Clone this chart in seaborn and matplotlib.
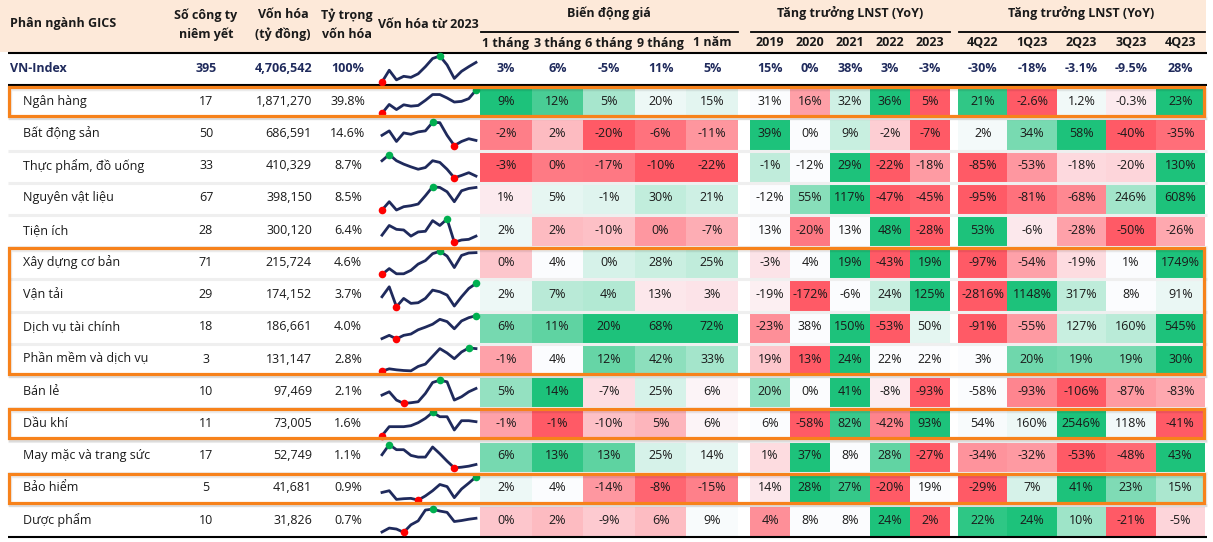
import numpy as np
import seaborn as sns
import matplotlib.pyplot as plt
from matplotlib.colors import LinearSegmentedColormap
from matplotlib.patches import Rectangle

sectors = ["Ngân hàng", "Bất động sản", "Thực phẩm, đồ uống", "Nguyên vật liệu", "Tiện ích",
           "Xây dựng cơ bản", "Vận tải", "Dịch vụ tài chính", "Phần mềm và dịch vụ", "Bán lẻ",
           "Dầu khí", "May mặc và trang sức", "Bảo hiểm", "Dược phẩm"]
n_companies = [17, 50, 33, 67, 28, 71, 29, 18, 3, 10, 11, 17, 5, 10]
market_cap = [1871270, 686591, 410329, 398150, 300120, 215724, 174152, 186661, 131147,
              97469, 73005, 52749, 41681, 31826]
cap_weight = [39.8, 14.6, 8.7, 8.5, 6.4, 4.6, 3.7, 4.0, 2.8, 2.1, 1.6, 1.1, 0.9, 0.7]

price_cols = ["1 tháng", "3 tháng", "6 tháng", "9 tháng", "1 năm"]
price_chg = [[9, 12, 5, 20, 15], [-2, 2, -20, -6, -11], [-3, 0, -17, -10, -22],
             [1, 5, -1, 30, 21], [2, 2, -10, 0, -7], [0, 4, 0, 28, 25],
             [2, 7, 4, 13, 3], [6, 11, 20, 68, 72], [-1, 4, 12, 42, 33],
             [5, 14, -7, 25, 6], [-1, -1, -10, 5, 6], [6, 13, 13, 25, 14],
             [2, 4, -14, -8, -15], [0, 2, -9, 6, 9]]

year_cols = ["2019", "2020", "2021", "2022", "2023"]
profit_year = [[31, 16, 32, 36, 5], [39, 0, 9, -2, -7], [-1, -12, 29, -22, -18],
               [-12, 55, 117, -47, -45], [13, -20, 13, 48, -28], [-3, 4, 19, -43, 19],
               [-19, -172, -6, 24, 125], [-23, 38, 150, -53, 50], [19, 13, 24, 22, 22],
               [20, 0, 41, -8, -93], [6, -58, 82, -42, 93], [1, 37, 8, 28, -27],
               [14, 28, 27, -20, 19], [4, 8, 8, 24, 2]]

quarter_cols = ["4Q22", "1Q23", "2Q23", "3Q23", "4Q23"]
profit_quarter = [[21, -2.6, 1.2, -0.3, 23], [2, 34, 58, -40, -35], [-85, -53, -18, -20, 130],
                  [-95, -81, -68, 246, 608], [53, -6, -28, -50, -26], [-97, -54, -19, 1, 1749],
                  [-2816, 1148, 317, 8, 91], [-91, -55, 127, 160, 545], [3, 20, 19, 19, 30],
                  [-58, -93, -106, -87, -83], [54, 160, 2546, 118, -41], [-34, -32, -53, -48, 43],
                  [-29, 7, 41, 23, 15], [22, 24, 10, -21, -5]]

vn_companies = 395
vn_cap = 4706542
vn_price = [3, 6, -5, 11, 5]
vn_year = [15, 0, 38, 3, -3]
vn_quarter = [-30, -18, -3.1, -9.5, 28]

# market cap trend since 2023 (relative level, 14 points), VN-Index first
vn_trend = [12, 45, 18, 28, 25, 35, 55, 78, 85, 60, 22, 42, 55, 67]
sector_trend = [
    [9, 35, 20, 34, 30, 32, 47, 64, 64, 54, 42, 44, 52, 77],
    [40, 53, 22, 47, 43, 50, 53, 78, 77, 40, 10, 22, 30, 25],
    [60, 78, 60, 50, 42, 35, 40, 60, 55, 35, 10, 17, 25, 15],
    [12, 37, 12, 22, 25, 30, 55, 82, 80, 67, 37, 70, 77, 80],
    [30, 60, 48, 46, 27, 40, 42, 75, 60, 80, 8, 15, 17, 27],
    [15, 32, 17, 17, 27, 45, 55, 75, 82, 68, 35, 70, 77, 78],
    [40, 70, 10, 35, 20, 22, 35, 60, 55, 45, 12, 40, 65, 80],
    [9, 19, 8, 19, 23, 36, 44, 53, 68, 61, 39, 63, 73, 79],
    [6, 13, 10, 8, 7, 20, 27, 50, 73, 60, 43, 63, 75, 73],
    [35, 45, 20, 10, 12, 15, 40, 73, 80, 75, 20, 30, 45, 55],
    [8, 35, 35, 35, 38, 47, 60, 78, 65, 65, 25, 53, 53, 50],
    [47, 77, 62, 62, 45, 40, 40, 70, 50, 28, 8, 10, 13, 18],
    [30, 35, 10, 12, 13, 8, 20, 35, 53, 47, 15, 40, 57, 75],
    [8, 20, 17, 7, 30, 42, 75, 78, 72, 68, 40, 43, 47, 50],
]
highlight_groups = [(0, 0), (5, 8), (10, 10), (12, 12)]

# ---- layout (pixels) ----
W, H = 1213, 542
ROW0, RH = 85.1, 32.23
NAVY = "#1F2A5C"
TXT = "#1a1a1a"

plt.rcParams["font.family"] = ["Open Sans", "DejaVu Sans"]
fig = plt.figure(figsize=(W / 100, H / 100), dpi=100)


def rect(x0, y0, x1, y1):
    return [x0 / W, 1 - y1 / H, (x1 - x0) / W, (y1 - y0) / H]


def pct(v):
    return f"{v:.1f}%" if v != int(v) else f"{v:.0f}%"


def mid_scale(v, mid):
    # 3-colour scale: min -> -1, mid -> 0, max -> +1
    v = np.asarray(v, float)
    lo, hi = v.min(), v.max()
    mid = min(max(mid, lo), hi)
    out = np.zeros_like(v)
    up, dn = v > mid, v < mid
    out[up] = (v[up] - mid) / (hi - mid)
    out[dn] = -(mid - v[dn]) / (mid - lo)
    return out


price = np.array(price_chg, float)
years = np.array(profit_year, float)
quarters = np.array(profit_quarter, float)
price_score = np.column_stack([mid_scale(c, np.median(c)) for c in price.T])
year_score = np.vstack([mid_scale(r, np.median(r)) for r in years])
quarter_score = np.vstack([mid_scale(r, 0) for r in quarters])

cmap = LinearSegmentedColormap.from_list("rwg", ["#FF5A66", "#FCFCFF", "#1DC27B"])

# base axes in pixel coordinates
ax = fig.add_axes([0, 0, 1, 1])
ax.set_xlim(0, W)
ax.set_ylim(H, 0)
ax.axis("off")

# header band
ax.add_patch(Rectangle((0, 0), 1206, 52, color="#FDE9D9", lw=0))
hd = dict(fontsize=9, fontweight="bold", color=TXT, va="center")
ax.text(10, 24, "Phân ngành GICS", ha="left", **hd)
for x, l1, l2 in [(206, "Số công ty", "niêm yết"), (283, "Vốn hóa", "(tỷ đồng)"),
                  (347, "Tỷ trọng", "vốn hóa")]:
    ax.text(x, 15, l1, ha="center", **hd)
    ax.text(x, 34, l2, ha="center", **hd)
ax.text(428, 24, "Vốn hóa từ 2023", ha="center", **hd)

blocks = [(480, 738, price_cols, "Biến động giá"),
          (750, 950, year_cols, "Tăng trưởng LNST (YoY)"),
          (958, 1205, quarter_cols, "Tăng trưởng LNST (YoY)")]
for x0, x1, cols, title in blocks:
    ax.text((x0 + x1) / 2, 13, title, ha="center", **hd)
    ax.plot([x0 + 1, x1], [31.5, 31.5], color="black", lw=1.3)
    cw = (x1 - x0) / len(cols)
    for j, c in enumerate(cols):
        ax.text(x0 + cw * (j + 0.5), 43, c, ha="center", **hd)

# VN-Index row
vn = dict(fontsize=9, fontweight="bold", color=NAVY, va="center")
ax.text(10, 69, "VN-Index", ha="left", **vn)
ax.text(206, 69, str(vn_companies), ha="center", **vn)
ax.text(312, 69, f"{vn_cap:,}", ha="right", **vn)
ax.text(348, 69, "100%", ha="center", **vn)
for (x0, x1, cols, _), vals in zip(blocks, [vn_price, vn_year, vn_quarter]):
    cw = (x1 - x0) / len(cols)
    for j, v in enumerate(vals):
        ax.text(x0 + cw * (j + 0.5), 69, pct(v), ha="center", **vn)

# sector rows: label columns
for i, name in enumerate(sectors):
    y = ROW0 + RH * (i + 0.5)
    ax.text(23, y, name, ha="left", va="center", fontsize=9, color=TXT)
    ax.text(206, y, str(n_companies[i]), ha="center", va="center", fontsize=9, color=TXT)
    ax.text(312, y, f"{market_cap[i]:,}", ha="right", va="center", fontsize=9, color=TXT)
    ax.text(348, y, f"{cap_weight[i]:.1f}%", ha="center", va="center", fontsize=9, color=TXT)

# coloured blocks as seaborn heatmaps
bottom = ROW0 + RH * len(sectors)
for (x0, x1, cols, _), score, vals in zip(blocks, [price_score, year_score, quarter_score],
                                          [price, years, quarters]):
    hax = fig.add_axes(rect(x0, ROW0, x1, bottom))
    labels = np.array([[pct(v) for v in r] for r in vals])
    sns.heatmap(score, ax=hax, cmap=cmap, vmin=-1, vmax=1, cbar=False,
                annot=labels, fmt="", annot_kws=dict(fontsize=9, color=TXT),
                xticklabels=False, yticklabels=False)
    hax.axis("off")

# separators
gax = fig.add_axes([0, 0, 1, 1], zorder=2)
gax.set_xlim(0, W)
gax.set_ylim(H, 0)
gax.axis("off")
gax.patch.set_alpha(0)
for i in range(1, len(sectors)):
    y = ROW0 + RH * i + 1
    gax.plot([8, 1207], [y, y], color="#EFEFEF", lw=2.2, solid_capstyle="butt")
for y in [52.5, 85, bottom + 0.8]:
    gax.plot([8, 1207], [y, y], color="black", lw=1.5, solid_capstyle="butt")

# sparklines
trends = [vn_trend] + sector_trend
for k, vals in enumerate(trends):
    if k == 0:
        top, bot = 56, 82
    else:
        top = ROW0 + RH * (k - 1) + 5
        bot = ROW0 + RH * k - 4
    sax = fig.add_axes(rect(382, top, 476, bot), zorder=3)
    xs = np.arange(len(vals))
    sns.lineplot(x=xs, y=vals, ax=sax, color=NAVY, linewidth=2.0)
    sax.lines[0].set_clip_on(False)
    lo, hi = int(np.argmin(vals)), int(np.argmax(vals))
    sax.scatter([lo], [vals[lo]], s=30, color="#FF0000", zorder=4, clip_on=False, lw=0)
    sax.scatter([hi], [vals[hi]], s=30, color="#00B050", zorder=4, clip_on=False, lw=0)
    sax.set_xlim(0, len(vals) - 1)
    sax.set_ylim(min(vals), max(vals))
    sax.axis("off")
    sax.patch.set_alpha(0)

# orange highlight frames
fax = fig.add_axes([0, 0, 1, 1], zorder=6)
fax.set_xlim(0, W)
fax.set_ylim(H, 0)
fax.axis("off")
fax.patch.set_alpha(0)
for r0, r1 in highlight_groups:
    y0 = ROW0 + RH * r0 + 1.8
    y1 = ROW0 + RH * (r1 + 1) - 1.2
    fax.add_patch(Rectangle((10, y0 + 2), 1195, y1 - y0, fill=False,
                            ec="#000000", alpha=0.08, lw=2.5))
    fax.add_patch(Rectangle((8.5, y0), 1195, y1 - y0, fill=False, ec="#F7821B", lw=2.3))

fig.savefig("out.png", dpi=100)
